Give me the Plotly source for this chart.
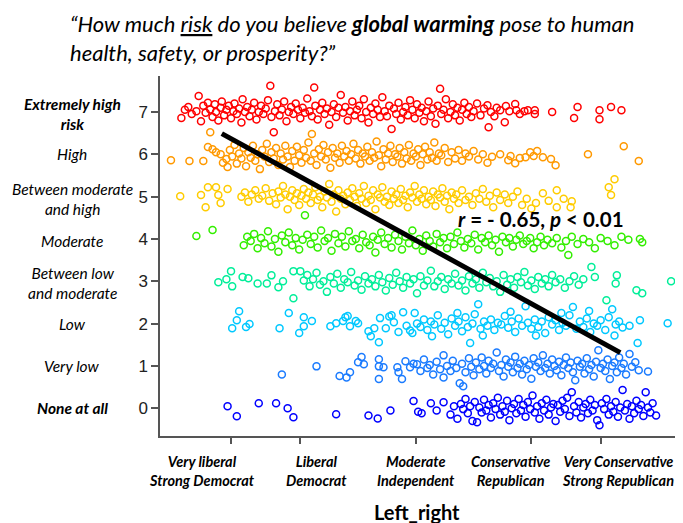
import plotly.graph_objects as go

# response level -> (left_right score, jittered risk rating)
lvl7 = [(0.57,6.86),(0.60,7.05),(0.63,7.12),(0.66,6.95),(0.70,7.02),(0.72,7.38),(0.74,6.78),(0.76,7.15),(0.78,6.98),(0.80,7.22),
        (0.82,7.06),(0.84,6.88),(0.86,7.18),(0.87,7.00),(0.89,6.80),(0.91,7.10),(0.92,7.25),(0.94,6.92),(0.96,7.05),(0.98,7.15),
        (1.00,6.85),(1.02,7.02),(1.03,7.20),(1.05,6.95),(1.07,7.08),(1.09,6.75),(1.10,7.30),(1.12,7.00),(1.14,7.12),(1.16,6.90),
        (1.18,7.05),(1.20,7.22),(1.22,6.82),(1.24,7.00),(1.26,7.15),(1.28,6.95),(1.30,7.08),(1.32,7.28),(1.34,7.62),(1.35,6.88),
        (1.37,6.52),(1.38,7.02),(1.40,7.18),(1.42,6.92),(1.44,7.06),(1.46,7.25),(1.48,6.78),(1.50,7.00),(1.52,7.12),(1.54,6.95),
        (1.56,7.20),(1.58,7.05),(1.60,6.85),(1.62,7.10),(1.64,6.98),(1.66,7.32),(1.68,7.02),(1.70,6.90),(1.72,7.58),(1.73,7.15),
        (1.75,6.82),(1.77,7.05),(1.79,7.22),(1.81,6.95),(1.83,7.08),(1.85,6.70),(1.87,7.00),(1.89,7.18),(1.91,6.88),(1.93,7.10),
        (1.95,7.40),(1.97,6.98),(1.99,7.12),(2.01,6.80),(2.03,7.02),(2.05,7.25),(2.07,6.92),(2.09,7.05),(2.11,7.15),(2.13,6.85),
        (2.15,7.30),(2.17,7.00),(2.19,6.75),(2.21,7.10),(2.23,6.95),(2.25,7.20),(2.27,7.05),(2.29,6.88),(2.31,7.35),(2.33,7.02),
        (2.35,6.90),(2.37,7.15),(2.39,6.60),(2.41,7.08),(2.43,6.95),(2.45,7.22),(2.47,6.82),(2.49,7.00),(2.51,7.12),(2.53,6.92),
        (2.55,7.28),(2.57,7.05),(2.59,6.85),(2.61,7.18),(2.63,6.98),(2.65,7.10),(2.67,6.78),(2.69,7.02),(2.71,7.25),(2.73,6.90),
        (2.75,7.08),(2.77,6.72),(2.79,7.15),(2.81,7.55),(2.82,6.95),(2.84,7.05),(2.86,7.30),(2.88,6.85),(2.90,7.00),(2.92,7.18),
        (2.94,6.92),(2.96,7.10),(2.98,6.80),(3.00,7.05),(3.02,7.22),(3.04,6.95),(3.06,7.12),(3.08,6.88),(3.10,7.02),(3.13,7.20),
        (3.16,6.92),(3.19,7.08),(3.22,7.16),(3.23,6.64),(3.25,7.00),(3.28,6.90),(3.30,7.10),(3.33,7.04),(3.37,6.76),(3.38,7.14),
        (3.41,7.02),(3.46,7.19),(3.47,7.04),(3.50,6.95),(3.54,7.02),(3.57,7.04),(3.63,7.04),(3.63,6.95),(3.78,7.00),(3.97,6.86),
        (4.00,7.12),(4.19,7.04),(4.19,6.83),(4.29,7.12),(4.38,7.04)]

lvl6 = [(0.48,5.86),(0.64,5.84),(0.76,5.84),(0.80,6.17),(0.82,6.52),(0.84,6.12),(0.87,6.05),(0.91,6.00),(0.93,5.80),(0.96,5.89),
        (0.97,5.70),(0.99,6.10),(1.01,5.95),(1.03,6.22),(1.05,5.78),(1.07,6.02),(1.09,5.90),(1.11,6.15),(1.13,5.72),(1.15,6.05),
        (1.17,5.92),(1.19,6.20),(1.21,5.85),(1.23,6.00),(1.25,5.65),(1.27,6.10),(1.29,5.95),(1.31,6.25),(1.33,5.82),(1.35,6.05),
        (1.37,5.90),(1.39,6.15),(1.41,5.75),(1.43,6.02),(1.45,5.88),(1.47,6.20),(1.49,5.95),(1.51,5.70),(1.53,6.08),(1.55,5.85),
        (1.57,6.18),(1.59,5.98),(1.61,5.80),(1.63,6.10),(1.65,5.92),(1.67,6.28),(1.69,5.85),(1.70,6.48),(1.72,6.02),(1.74,5.75),
        (1.76,6.12),(1.78,5.95),(1.80,6.22),(1.82,5.88),(1.84,6.05),(1.86,5.68),(1.88,6.15),(1.90,5.92),(1.92,6.02),(1.94,5.80),
        (1.96,6.20),(1.98,5.95),(2.00,6.08),(2.02,5.85),(2.04,6.00),(2.06,6.25),(2.08,5.90),(2.10,6.10),(2.12,5.78),(2.14,6.02),
        (2.16,5.95),(2.18,6.18),(2.20,5.85),(2.22,6.05),(2.24,5.92),(2.26,6.30),(2.28,5.98),(2.30,5.72),(2.32,6.12),(2.34,5.88),
        (2.36,6.02),(2.38,6.20),(2.40,5.82),(2.42,6.00),(2.44,5.95),(2.46,6.15),(2.48,5.78),(2.50,6.05),(2.52,5.90),(2.54,6.22),
        (2.56,5.85),(2.58,6.02),(2.60,5.95),(2.62,6.12),(2.64,5.75),(2.66,6.00),(2.68,6.18),(2.70,5.88),(2.72,6.05),(2.74,5.92),
        (2.76,6.28),(2.78,5.85),(2.80,6.02),(2.82,5.98),(2.85,6.15),(2.88,5.82),(2.91,6.05),(2.94,5.90),(2.97,6.10),(3.00,5.85),
        (3.03,6.02),(3.06,5.95),(3.10,6.08),(3.14,5.88),(3.18,6.00),(3.22,5.80),(3.26,5.94),(3.33,6.00),(3.40,5.86),(3.42,5.96),
        (3.46,5.79),(3.50,5.91),(3.55,5.93),(3.59,6.05),(3.62,5.96),(3.65,6.08),(3.70,5.93),(3.77,5.89),(3.81,5.74),(4.09,6.00),
        (4.40,6.19),(4.53,5.84)]

lvl5 = [(0.56,5.01),(0.74,5.04),(0.78,4.75),(0.80,5.22),(0.87,5.22),(0.89,5.04),(0.91,4.85),(0.97,5.18),
        (1.09,5.00),(1.12,5.10),(1.15,4.88),(1.18,5.05),(1.21,5.15),(1.24,4.95),(1.27,5.02),(1.30,5.20),(1.33,4.90),(1.36,5.08),
        (1.39,4.82),(1.41,5.12),(1.43,4.98),(1.45,5.25),(1.47,5.05),(1.49,4.70),(1.51,5.00),(1.53,5.15),(1.55,4.92),(1.57,5.08),
        (1.59,4.80),(1.61,5.02),(1.63,5.18),(1.65,4.95),(1.67,5.10),(1.69,4.85),(1.71,5.05),(1.73,5.22),(1.75,4.92),(1.77,5.00),
        (1.79,4.75),(1.81,5.12),(1.83,4.98),(1.85,5.30),(1.87,4.88),(1.89,5.05),(1.91,4.65),(1.93,5.15),(1.95,4.95),(1.97,5.02),
        (1.99,4.82),(2.01,5.10),(2.03,4.92),(2.05,5.20),(2.07,5.00),(2.09,4.78),(2.11,5.08),(2.13,4.95),(2.15,5.25),(2.17,4.85),
        (2.19,5.02),(2.21,4.92),(2.23,5.15),(2.25,4.70),(2.27,5.05),(2.29,4.98),(2.31,5.22),(2.33,4.88),(2.35,5.00),(2.37,4.80),
        (2.39,5.12),(2.41,4.95),(2.43,5.05),(2.45,4.85),(2.47,5.18),(2.49,4.92),(2.51,5.02),(2.53,4.75),(2.55,5.10),(2.57,4.98),
        (2.59,5.25),(2.61,4.88),(2.63,5.05),(2.65,4.95),(2.67,5.15),(2.69,4.82),(2.71,5.00),(2.73,4.92),(2.75,5.12),(2.77,4.78),
        (2.79,5.05),(2.81,4.98),(2.83,5.20),(2.85,4.88),(2.87,5.02),(2.89,4.70),(2.91,5.10),(2.93,4.95),(2.95,5.05),(2.97,4.85),
        (3.00,5.15),(3.03,4.92),(3.06,5.00),(3.09,4.80),(3.12,5.08),(3.15,4.95),(3.18,5.18),(3.21,4.88),(3.24,5.02),(3.27,4.75),
        (3.30,5.10),(3.33,4.92),(3.37,5.05),(3.40,4.85),(3.44,5.00),(3.48,5.12),(3.52,4.80),(3.56,4.95),(3.60,4.72),(3.64,4.85),
        (3.70,5.08),(3.75,4.90),(3.82,5.15),(3.82,4.75),(3.88,4.95),(3.94,4.75),(3.95,4.89),(4.27,5.22),(4.29,5.04),(4.32,5.41)]

lvl4 = [(0.70,4.07),(0.84,4.21),(1.11,3.85),(1.14,4.05),(1.17,3.95),(1.20,4.12),(1.23,3.78),(1.26,4.02),(1.29,3.90),(1.32,4.18),
        (1.35,3.82),(1.38,4.00),(1.41,3.70),(1.44,4.08),(1.47,3.92),(1.50,4.15),(1.53,3.85),(1.56,4.02),(1.59,3.75),(1.62,3.98),
        (1.64,4.56),(1.66,4.10),(1.69,3.88),(1.72,4.05),(1.75,3.80),(1.78,4.20),(1.81,3.95),(1.84,4.02),(1.87,3.72),(1.90,4.12),
        (1.93,3.90),(1.96,4.05),(1.99,3.82),(2.02,4.18),(2.05,3.95),(2.08,4.00),(2.11,3.78),(2.14,4.10),(2.17,3.92),(2.20,3.85),
        (2.23,4.05),(2.25,3.68),(2.27,3.98),(2.30,4.15),(2.33,3.88),(2.36,4.02),(2.39,3.80),(2.42,4.10),(2.45,3.95),(2.48,3.75),
        (2.51,4.05),(2.54,3.90),(2.57,4.20),(2.60,3.85),(2.63,4.00),(2.66,3.72),(2.69,4.08),(2.72,3.95),(2.75,3.82),(2.78,4.12),
        (2.81,3.92),(2.84,4.02),(2.87,3.78),(2.90,4.05),(2.93,3.88),(2.96,4.15),(2.99,3.95),(3.02,3.80),(3.05,4.00),(3.08,3.90),
        (3.11,4.10),(3.14,3.75),(3.17,4.02),(3.20,3.92),(3.23,4.08),(3.26,3.85),(3.29,3.98),(3.32,3.70),(3.35,4.05),(3.38,3.92),
        (3.41,4.02),(3.44,3.82),(3.47,3.98),(3.50,4.08),(3.53,3.88),(3.56,3.95),(3.59,4.02),(3.62,3.78),(3.65,3.92),(3.68,4.05),
        (3.71,3.85),(3.74,3.98),(3.78,3.90),(3.82,4.02),(3.86,3.80),(3.90,3.95),(3.92,3.62),(3.95,4.05),(4.00,3.88),(4.05,4.00),
        (4.10,3.92),(4.15,3.78),(4.20,4.02),(4.26,3.95),(4.32,3.85),(4.38,4.05),(4.44,3.98),(4.54,4.00),(4.56,3.92)]

lvl3 = [(0.89,2.98),(0.96,3.05),(1.00,3.24),(1.01,2.88),(1.10,3.10),(1.15,3.07),(1.23,2.95),(1.31,2.95),(1.35,3.14),(1.41,2.86),
        (1.45,3.00),(1.54,2.60),(1.54,3.24),(1.60,3.24),(1.63,3.02),(1.66,3.15),(1.68,2.88),(1.71,3.05),(1.74,3.20),(1.77,2.92),
        (1.80,3.00),(1.83,2.75),(1.86,3.10),(1.89,2.95),(1.92,3.18),(1.95,2.85),(1.98,3.05),(2.01,2.98),(2.04,3.22),(2.07,2.90),
        (2.10,3.02),(2.13,2.80),(2.16,3.12),(2.19,2.95),(2.22,3.05),(2.25,2.88),(2.28,3.15),(2.31,2.98),(2.34,2.78),(2.37,3.08),
        (2.40,2.92),(2.43,3.20),(2.46,3.00),(2.49,2.85),(2.52,3.10),(2.55,2.95),(2.58,3.05),(2.61,2.72),(2.64,3.12),(2.67,2.90),
        (2.70,3.02),(2.73,3.25),(2.76,2.88),(2.79,3.00),(2.82,3.10),(2.85,2.82),(2.88,3.05),(2.91,2.95),(2.94,3.18),(2.97,2.90),
        (3.00,3.02),(3.03,2.78),(3.06,3.12),(3.09,2.95),(3.12,3.05),(3.15,2.85),(3.18,3.20),(3.21,2.98),(3.24,3.08),(3.27,2.88),
        (3.30,3.00),(3.33,2.75),(3.36,3.15),(3.39,2.92),(3.42,3.05),(3.45,2.85),(3.48,3.10),(3.51,2.98),(3.54,3.22),(3.57,2.90),
        (3.60,3.02),(3.63,2.82),(3.66,3.10),(3.69,2.95),(3.72,3.05),(3.75,2.88),(3.78,3.15),(3.81,2.98),(3.85,3.05),(3.89,2.85),
        (3.93,3.00),(3.97,3.12),(4.01,2.92),(4.05,3.05),(4.12,3.34),(4.15,3.10),(4.25,2.55),(4.33,2.95),(4.34,3.14),(4.51,2.79),
        (4.56,2.72),(4.81,3.00)]

lvl2 = [(1.01,1.89),(1.05,2.08),(1.07,2.29),(1.13,1.92),(1.16,1.99),(1.42,1.89),(1.50,2.25),(1.59,1.78),(1.63,1.94),(1.63,2.15),
        (1.70,2.06),(1.86,1.94),(1.91,2.01),(1.97,2.06),(1.99,2.15),(2.01,2.18),(2.03,1.94),(2.08,2.06),(2.10,2.01),(2.19,1.82),
        (2.21,1.70),(2.24,1.89),(2.28,1.56),(2.29,2.13),(2.34,1.89),(2.37,2.17),(2.39,2.20),(2.41,2.03),(2.45,1.80),(2.49,2.27),
        (2.52,1.95),(2.55,1.84),(2.57,1.78),(2.59,2.25),(2.61,2.00),(2.64,1.92),(2.67,2.10),(2.70,1.85),(2.73,2.05),(2.74,1.70),
        (2.76,1.98),(2.79,2.20),(2.82,1.88),(2.85,2.02),(2.88,1.75),(2.91,2.12),(2.94,1.95),(2.96,2.25),(2.97,2.05),(3.00,1.82),
        (3.03,2.15),(3.05,1.92),(3.07,1.54),(3.09,2.00),(3.11,2.22),(3.14,2.46),(3.16,1.88),(3.18,1.72),(3.19,2.05),(3.22,1.95),
        (3.25,2.10),(3.28,1.85),(3.31,2.02),(3.34,1.98),(3.37,2.18),(3.40,1.90),(3.42,2.28),(3.43,2.05),(3.46,1.80),(3.49,2.12),
        (3.52,1.95),(3.55,2.41),(3.57,2.02),(3.60,1.88),(3.63,2.10),(3.64,1.72),(3.66,1.92),(3.69,2.05),(3.72,1.78),(3.75,2.15),
        (3.78,1.98),(3.81,2.08),(3.84,1.85),(3.86,2.25),(3.87,2.02),(3.90,1.95),(3.93,2.20),(3.96,2.39),(3.99,1.88),(4.02,2.05),
        (4.05,1.92),(4.08,2.12),(4.10,2.30),(4.11,1.80),(4.14,2.00),(4.17,1.95),(4.20,2.08),(4.24,1.85),(4.27,2.15),(4.30,2.34),
        (4.32,1.72),(4.33,1.98),(4.36,2.05),(4.39,1.91),(4.45,1.95),(4.52,1.54),(4.54,2.08),(4.78,2.01)]

lvl1 = [(1.44,0.80),(1.74,0.99),(1.94,0.76),(2.00,0.73),(2.03,0.85),(2.10,1.09),(2.13,1.21),(2.15,1.04),(2.28,1.16),(2.28,0.99),
        (2.28,0.69),(2.32,0.97),(2.44,0.97),(2.45,0.85),(2.48,0.69),(2.51,1.11),(2.55,0.97),(2.58,1.05),(2.61,1.04),(2.64,0.88),
        (2.67,1.15),(2.70,0.95),(2.72,1.02),(2.75,0.80),(2.78,1.10),(2.81,0.92),(2.84,1.25),(2.84,0.73),(2.87,1.00),(2.90,0.88),
        (2.92,1.12),(2.95,0.95),(2.98,0.59),(3.00,1.05),(3.01,0.52),(3.03,0.85),(3.06,1.18),(3.08,0.98),(3.10,0.78),(3.12,1.08),
        (3.15,0.92),(3.17,1.20),(3.19,1.00),(3.21,0.82),(3.23,1.12),(3.25,0.95),(3.27,1.05),(3.30,1.32),(3.32,0.88),(3.34,1.02),
        (3.36,0.75),(3.38,1.15),(3.40,0.98),(3.42,1.08),(3.44,0.85),(3.46,1.22),(3.48,0.95),(3.50,1.05),(3.52,0.80),(3.54,1.12),
        (3.56,0.92),(3.58,1.02),(3.60,0.70),(3.62,1.18),(3.64,0.98),(3.66,1.08),(3.68,0.88),(3.70,1.25),(3.72,0.95),(3.74,1.05),
        (3.76,0.82),(3.78,1.15),(3.80,1.00),(3.82,0.90),(3.84,1.10),(3.86,0.78),(3.88,1.02),(3.90,1.20),(3.92,0.95),(3.94,1.08),
        (3.96,0.85),(3.98,0.66),(4.00,1.12),(4.02,0.98),(4.04,1.05),(4.06,0.82),(4.08,1.18),(4.10,0.92),(4.12,1.02),(4.14,0.75),
        (4.16,1.10),(4.18,1.37),(4.20,0.95),(4.22,1.05),(4.24,0.88),(4.26,1.15),(4.28,0.69),(4.30,1.00),(4.32,1.08),(4.34,0.85),
        (4.36,1.20),(4.38,0.95),(4.40,1.05),(4.42,0.80),(4.45,1.28),(4.47,0.98),(4.50,1.09),(4.53,0.90),(4.61,0.87)]

lvl0 = [(0.97,0.05),(1.05,-0.19),(1.24,0.12),(1.39,0.12),(1.49,0.00),(1.54,-0.21),(1.91,-0.14),(2.19,-0.17),(2.27,-0.24),(2.38,-0.05),
        (2.58,0.17),(2.62,-0.08),(2.65,-0.12),(2.73,0.12),(2.78,-0.05),(2.84,0.14),(2.90,-0.15),(2.93,0.05),(2.96,-0.25),(2.99,0.10),
        (3.01,-0.02),(3.03,0.22),(3.05,-0.12),(3.07,0.05),(3.09,-0.30),(3.11,0.15),(3.13,-0.33),(3.15,0.02),(3.17,-0.10),(3.19,0.20),
        (3.21,-0.05),(3.23,0.08),(3.25,-0.22),(3.27,0.12),(3.29,-0.02),(3.31,0.25),(3.33,-0.15),(3.35,0.05),(3.37,-0.08),(3.39,0.18),
        (3.41,-0.28),(3.43,0.00),(3.45,0.10),(3.47,-0.12),(3.49,0.22),(3.51,-0.05),(3.53,0.08),(3.55,-0.20),(3.57,0.15),(3.59,-0.02),
        (3.61,0.30),(3.63,-0.10),(3.65,0.05),(3.67,-0.25),(3.69,0.12),(3.71,-0.05),(3.73,0.20),(3.75,-0.15),(3.77,0.02),(3.79,0.10),
        (3.81,-0.30),(3.83,0.08),(3.85,-0.08),(3.87,0.18),(3.89,-0.02),(3.91,0.25),(3.93,-0.18),(3.95,0.38),(3.97,0.05),(3.99,-0.10),
        (4.01,0.15),(4.03,-0.22),(4.05,0.02),(4.07,0.10),(4.09,-0.12),(4.11,0.20),(4.13,-0.05),(4.15,0.08),(4.17,-0.28),(4.19,-0.40),
        (4.21,0.12),(4.23,-0.02),(4.25,0.22),(4.27,-0.15),(4.29,0.05),(4.31,-0.08),(4.33,0.15),(4.35,-0.20),(4.37,0.02),(4.39,0.43),
        (4.41,-0.05),(4.43,0.10),(4.45,-0.25),(4.47,0.05),(4.49,-0.12),(4.51,0.18),(4.53,-0.02),(4.55,0.08),(4.57,-0.18),(4.59,0.38),
        (4.61,0.02),(4.63,-0.10),(4.65,0.12),(4.68,-0.17)]

levels = [lvl0, lvl1, lvl2, lvl3, lvl4, lvl5, lvl6, lvl7]
colors = ['#0000FF', '#1A7BFF', '#00C8FF', '#00EE99', '#33EE00', '#FFCC00', '#FF9900', '#FF0000']

risk_labels = ['<b>None at all</b>', 'Very low', 'Low', 'Between low<br>and moderate', 'Moderate',
               'Between moderate<br>and high', 'High', '<b>Extremely high<br>risk</b>']
risk_label_y = [0, 1, 2, 2.95, 3.95, 4.95, 6, 6.95]

lr_ticks = [1.0, 1.6, 2.6, 3.6, 4.2]
lr_labels = ['Very liberal<br>Strong Democrat', 'Liberal<br>Democrat', 'Moderate<br>Independent',
             'Conservative<br>Republican', 'Very Conservative<br>Strong Republican']
lr_label_x = [0.75, 1.74, 2.60, 3.42, 4.35]

# fitted line
fit_slope = -1.5
fit_intercept = 7.87
fit_x = [0.92, 4.37]

fig = go.Figure()
for pts, col in zip(levels, colors):
    xs = [p[0] for p in pts]
    ys = [p[1] for p in pts]
    fig.add_trace(go.Scatter(x=xs, y=ys, mode='markers', showlegend=False,
                             marker=dict(symbol='circle-open', size=7, color=col, line=dict(width=1.5, color=col))))

fig.add_trace(go.Scatter(x=fit_x, y=[fit_intercept + fit_slope * v for v in fit_x], mode='lines',
                         line=dict(color='black', width=5), showlegend=False))

fig.update_xaxes(range=[0.385, 4.913], tickvals=lr_ticks, showticklabels=False, ticks='outside', ticklen=6,
                 tickcolor='#555555', tickwidth=1.5, showline=True, linecolor='#555555', linewidth=1.5,
                 showgrid=False, zeroline=False)
fig.update_yaxes(range=[-0.655, 7.85], tickvals=list(range(8)), ticktext=[str(i) for i in range(8)],
                 ticks='outside', ticklen=7, tickcolor='#555555', tickwidth=1.5, showline=True,
                 linecolor='#555555', linewidth=1.5, showgrid=False, zeroline=False,
                 tickfont=dict(family='Liberation Sans, Arial', size=17, color='#222222'))

annots = []
for lab, yv in zip(risk_labels, risk_label_y):
    annots.append(dict(text='<i>' + lab + '</i>', xref='paper', yref='y', x=-0.168, y=yv, xanchor='center',
                       yanchor='middle', showarrow=False, font=dict(family='Lato', size=15.5, color='black')))
for lab, xv in zip(lr_labels, lr_label_x):
    annots.append(dict(text='<b><i>' + lab + '</i></b>', xref='x', yref='paper', x=xv, y=-0.098, xanchor='center',
                       yanchor='middle', showarrow=False, font=dict(family='Lato', size=14.5, color='black')))
annots.append(dict(text='<b>Left_right</b>', xref='paper', yref='paper', x=(417 - 160) / 523, y=-0.21,
                   xanchor='center', yanchor='middle', showarrow=False, font=dict(family='Lato', size=20, color='black')))
annots.append(dict(text='<b><i>r</i> = - 0.65, <i>p</i> &lt; 0.01</b>', xref='x', yref='y', x=3.684, y=4.47,
                   xanchor='center', yanchor='middle', showarrow=False, font=dict(family='Lato', size=20.5, color='black')))
annots.append(dict(text='<i>\u201cHow much <u>risk</u> do you believe <b>global warming</b> pose to human<br>'
                        'health, safety, or prosperity?\u201d</i>',
                   xref='paper', yref='paper', x=(68 - 160) / 523, y=1.188, xanchor='left', yanchor='top',
                   align='left', showarrow=False, font=dict(family='Lato', size=22, color='black')))

# the page body adds 8px around the figure, so the figure is 8px smaller and the margins shift by 8
fig.update_layout(width=675, height=515, margin=dict(l=152, r=0, t=68, b=87),
                  plot_bgcolor='white', paper_bgcolor='white', annotations=annots)

fig.write_html("out.html")
